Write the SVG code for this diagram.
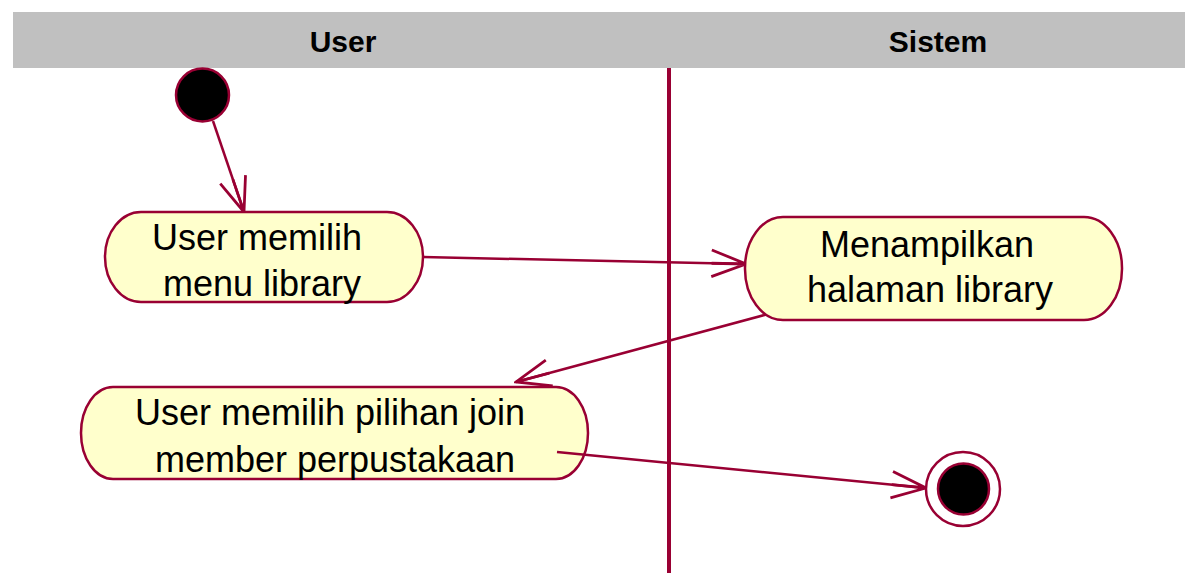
<svg xmlns="http://www.w3.org/2000/svg" width="1185" height="573" viewBox="0 0 1185 573">
  <style>
    .hdr { font-family: "Liberation Sans", Arial, sans-serif; font-weight: bold; font-size: 30px; fill: #000; text-anchor: middle; }
    .lbl { font-family: "Liberation Sans", Arial, sans-serif; font-size: 36px; fill: #000; text-anchor: middle; }
    .act { fill: #ffffcc; stroke: #990033; stroke-width: 2.5; }
    .conn { fill: none; stroke: #990033; stroke-width: 2.5; }
  </style>
  <defs>
    <marker id="arrow" markerUnits="userSpaceOnUse" markerWidth="40" markerHeight="40" viewBox="-34 -17 36 34" refX="0" refY="0" orient="auto">
      <path d="M -31 -12 L 0 0 L -31 12 M -31 0 L 0 0" fill="none" stroke="#990033" stroke-width="2.5"/>
    </marker>
  </defs>
  <rect x="0" y="0" width="1185" height="573" fill="#ffffff"/>

  <g id="swimlanes">
    <rect x="13" y="12" width="1172" height="56" fill="#c0c0c0"/>
    <text class="hdr" x="343" y="52">User</text>
    <text class="hdr" x="938" y="52">Sistem</text>
    <line x1="669" y1="68" x2="669" y2="573" stroke="#990033" stroke-width="4"/>
  </g>

  <g id="connectors">
    <line class="conn" x1="213" y1="121" x2="244" y2="212" marker-end="url(#arrow)"/>
    <line class="conn" x1="423" y1="257" x2="746" y2="264" marker-end="url(#arrow)"/>
    <line class="conn" x1="772" y1="313" x2="516" y2="382" marker-end="url(#arrow)"/>
  </g>

  <g id="start">
    <circle cx="202.5" cy="95" r="26.5" fill="#000" stroke="#990033" stroke-width="2.5"/>
  </g>

  <g id="act1">
    <rect class="act" x="105" y="212" width="318" height="90" rx="36" ry="45"/>
    <text class="lbl" x="257" y="250">User memilih</text>
    <text class="lbl" x="262" y="296">menu library</text>
  </g>

  <g id="act2">
    <rect class="act" x="745" y="217" width="377" height="103" rx="38" ry="51"/>
    <text class="lbl" x="927" y="257">Menampilkan</text>
    <text class="lbl" x="930" y="302">halaman library</text>
  </g>

  <g id="act3">
    <rect class="act" x="81" y="387" width="507" height="92" rx="32" ry="46"/>
    <text class="lbl" x="330" y="425">User memilih pilihan join</text>
    <text class="lbl" x="335" y="472">member perpustakaan</text>
  </g>

  <g id="connectors-top">
    <line class="conn" x1="557" y1="452" x2="926" y2="488" marker-end="url(#arrow)"/>
  </g>

  <g id="end">
    <circle cx="963" cy="489" r="37" fill="#ffffff" stroke="#990033" stroke-width="2.5"/>
    <circle cx="963.5" cy="489" r="25.5" fill="#000" stroke="#990033" stroke-width="2.5"/>
  </g>
</svg>
